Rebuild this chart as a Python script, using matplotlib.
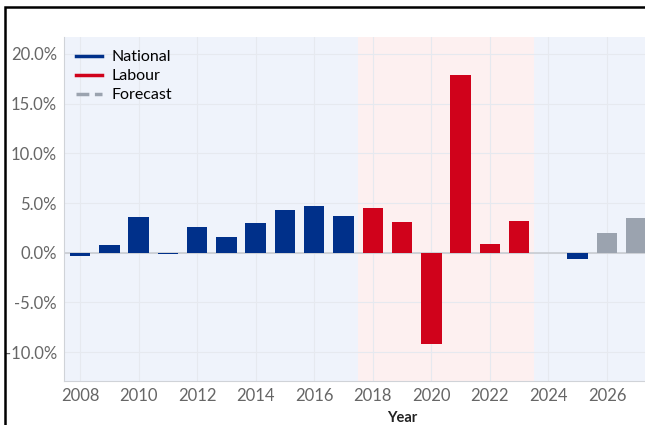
import matplotlib.pyplot as plt
from matplotlib.lines import Line2D
from matplotlib.patches import Rectangle
from matplotlib.ticker import FuncFormatter

# Annual change (%) by year and governing party
years = [2008, 2009, 2010, 2011, 2012, 2013, 2014, 2015, 2016, 2017,
         2018, 2019, 2020, 2021, 2022, 2023, 2025, 2026, 2027]
change = [-0.3, 0.8, 3.6, -0.1, 2.6, 1.6, 3.0, 4.3, 4.7, 3.7,
          4.5, 3.1, -9.2, 17.9, 0.9, 3.2, -0.65, 2.0, 3.5]
party = ['National'] * 10 + ['Labour'] * 6 + ['National'] + ['Forecast'] * 2

colors = {'National': '#00308a', 'Labour': '#d0021b', 'Forecast': '#9ba3af'}

plt.rcParams['font.family'] = ['Lato', 'DejaVu Sans']

fig = plt.figure(figsize=(6.45, 4.25), dpi=100)
ax = fig.add_axes([0.0992, 0.1035, 0.9008, 0.8095])

# shaded government periods
ax.axvspan(2007.45, 2017.5, color='#eff3fb', zorder=0, lw=0)
ax.axvspan(2017.5, 2023.5, color='#fdf0f0', zorder=0, lw=0)
ax.axvspan(2023.5, 2028, color='#eff3fb', zorder=0, lw=0)

ax.bar(years, change, width=0.7, color=[colors[p] for p in party], zorder=3)
ax.axhline(0, color='#c8ccd2', lw=1.2, zorder=2)

ax.set_xlim(2007.45, 2027.3)
ax.set_ylim(-12.9, 21.7)
ax.set_xticks(range(2008, 2027, 2))
ax.set_yticks([-10, -5, 0, 5, 10, 15, 20])
ax.yaxis.set_major_formatter(FuncFormatter(lambda v, p: f'{v:.1f}%'))
ax.grid(True, color='#e6e9ef', lw=0.8, zorder=1)
ax.tick_params(length=0, labelsize=12, labelcolor='#666666', pad=5)

for side in ['top', 'right']:
    ax.spines[side].set_visible(False)
for side in ['left', 'bottom']:
    ax.spines[side].set_color('#d0d3d8')

ax.set_xlabel('Year', fontsize=10.5, fontweight='bold', color='#222222')
ax.xaxis.set_label_coords(0.582, -0.088)

handles = [Line2D([0], [0], color=colors['National'], lw=2.5),
           Line2D([0], [0], color=colors['Labour'], lw=2.5),
           Line2D([0], [0], color=colors['Forecast'], lw=2.5, ls='--')]
ax.legend(handles, ['National', 'Labour', 'Forecast'], loc='upper left',
          frameon=False, fontsize=11.5, handlelength=1.6, handletextpad=0.6,
          labelspacing=0.3, borderaxespad=0.2, bbox_to_anchor=(0.005, 0.99))

# outer frame
fig.patches.append(Rectangle((5 / 645, -0.1), 1.2, 1 - 7 / 425 + 0.1,
                             transform=fig.transFigure, fill=False,
                             edgecolor='black', lw=1.8))

fig.savefig('out.png', dpi=100)
